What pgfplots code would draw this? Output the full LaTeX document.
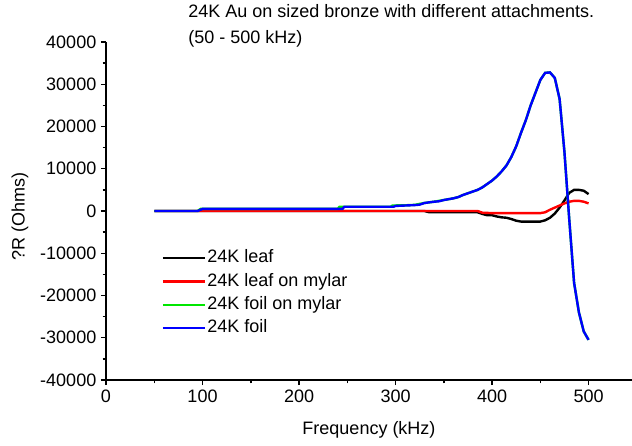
\documentclass[border=0pt]{standalone}
\usepackage{fontspec}
\setmainfont{Liberation Sans}
\usepackage{pgfplots}
\pgfplotsset{compat=1.18}
\usepackage{pgfplotstable}

\pgfplotstableread{
x y
50 0
100 0
150 0
200 0
250 0
300 0
330 0
335 -300
360 -300
385 -300
390 -700
395 -1000
400 -1000
405 -1300
410 -1500
415 -1600
420 -1900
425 -2300
430 -2500
440 -2500
450 -2500
455 -2200
460 -1600
465 -600
470 800
475 2500
480 4300
485 5000
490 5000
495 4800
500 4000
}\leaf

\pgfplotstableread{
x y
50 0
100 0
200 0
300 0
385 0
390 -400
400 -500
420 -500
440 -500
450 -500
455 -300
460 300
465 800
470 1300
475 1800
480 2200
485 2400
490 2400
495 2200
500 1800
}\leafmylar

\pgfplotstableread{
x y
50 0
95 0
98 500
150 500
200 500
240 500
242 1000
270 1000
295 1000
297 1300
310 1350
320 1450
323 1600
330 1900
340 2200
345 2400
350 2600
360 3000
365 3300
370 3800
375 4200
380 4600
385 5000
390 5600
395 6400
400 7200
405 8200
410 9400
415 10800
420 12800
425 15300
430 18500
435 21500
440 25000
445 28000
450 31000
455 32700
460 32800
465 31500
470 26500
475 14000
480 -2000
485 -17000
490 -24000
495 -28500
500 -30500
}\foilmylar

\pgfplotstableread{
x y
50 0
95 0
100 500
150 500
200 500
245 500
247 1000
270 1000
298 1000
300 1200
310 1300
320 1400
325 1500
330 1900
340 2200
345 2300
350 2600
360 3000
365 3300
370 3800
375 4200
380 4600
385 5000
390 5600
395 6400
400 7200
405 8200
410 9400
415 10800
420 12800
425 15300
430 18500
435 21500
440 25000
445 28000
450 31000
455 32700
460 32800
465 31500
470 26500
475 14000
480 -2000
485 -17000
490 -24000
495 -28500
500 -30500
}\foil

\newcommand{\chartfont}{\fontsize{13.5}{16.5}\selectfont}

\begin{document}
\begin{tikzpicture}
\useasboundingbox (-79.5pt,-49.5pt) rectangle (394.5pt,285pt);
\begin{axis}[
  at={(0pt,0pt)}, anchor=south west,
  scale only axis, width=394.5pt, height=253.5pt,
  xmin=0, xmax=545, ymin=-40000, ymax=40000,
  axis x line=bottom, axis y line=left,
  axis line style={-, line width=1.4pt, black},
  xtick={0,100,200,300,400,500},
  ytick={-40000,-30000,-20000,-10000,0,10000,20000,30000,40000},
  minor x tick num=1, minor y tick num=1,
  tick align=outside,
  major tick length=3.75pt, minor tick length=2.5pt,
  every tick/.style={line width=1.1pt, black},
  scaled ticks=false,
  /pgf/number format/assume math mode=true,
  /pgf/number format/1000 sep={},
  tick label style={font=\chartfont},
  label style={font=\chartfont},
  xlabel={Frequency (kHz)},
  ylabel={?R (Ohms)},
  xlabel style={at={(axis description cs:0.5,-0.148)}, anchor=center},
  ylabel style={at={(axis description cs:-0.1635,0.485)}, anchor=center},
  legend style={at={(axis description cs:0.1058,0.39)}, anchor=north west,
    draw=none, fill=none, font=\chartfont, inner sep=0pt, outer sep=0pt,
    nodes={text height=10pt, text depth=3pt, inner sep=1pt},
    row sep=2.5pt},
  legend cell align=left,
  legend image code/.code={\draw[#1] (0pt,0pt) -- (31.5pt,0pt);},
  every axis plot/.append style={line width=1.8pt},
  clip=false,
]
\addplot[black] table[x=x,y=y] {\leaf};
\addlegendentry{24K leaf}
\addplot[red] table[x=x,y=y] {\leafmylar};
\addlegendentry{24K leaf on mylar}
\addplot[color={rgb,255:red,0;green,230;blue,0}] table[x=x,y=y] {\foilmylar};
\addlegendentry{24K foil on mylar}
\addplot[blue] table[x=x,y=y] {\foil};
\addlegendentry{24K foil}
\node[anchor=north west, align=left, inner sep=0pt, font=\chartfont]
  at (axis description cs:0.156,1.1124)
  {24K Au on sized bronze with different attachments.\\[3pt](50 - 500 kHz)};
\end{axis}
\end{tikzpicture}
\end{document}
